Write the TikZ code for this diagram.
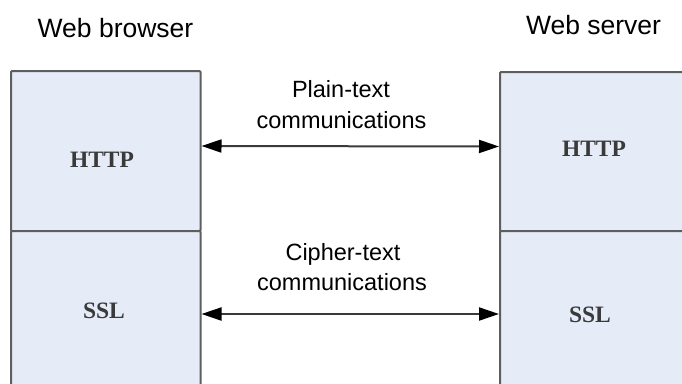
\documentclass[tikz,border=0pt]{standalone}
\usepackage{fontspec}
\setmainfont{Liberation Sans}
\newfontfamily\layerfont{Liberation Serif}
\usetikzlibrary{arrows.meta}
\definecolor{layerfill}{HTML}{E6ECF7}
\definecolor{layeredge}{HTML}{5E5E5E}
\definecolor{linkline}{HTML}{3A3A3A}
\definecolor{layertext}{HTML}{3A3A3A}
\tikzset{
  layer/.style={draw=layeredge, line width=2pt, fill=layerfill, rounded corners=1pt,
    inner sep=0pt, anchor=north west},
  layerlabel/.style={anchor=base, inner sep=0pt, text=layertext,
    font=\layerfont\bfseries\fontsize{23.5}{28}\selectfont},
  title/.style={anchor=base, inner sep=0pt, font=\fontsize{26.5}{31}\selectfont},
  caption/.style={anchor=base, inner sep=0pt, font=\fontsize{23.5}{28}\selectfont},
  link/.style={draw=linkline, line width=2pt,
    >={Triangle[length=20pt,width=13pt,color=black]}, <->}
}
\begin{document}
\begin{tikzpicture}[x=1pt,y=-1pt]
  \useasboundingbox (0,0) rectangle (682,383);
  \clip (0,0) rectangle (682,383);
  \fill[white] (0,0) rectangle (682,383);

  % browser stack
  \node[layer, minimum width=189.5pt, minimum height=160pt] (lhttp) at (10,70) {};
  \node[layer, minimum width=189.5pt, minimum height=166pt] (lssl) at (10,230) {};
  % server stack
  \node[layer, minimum width=200pt, minimum height=159pt] (rhttp) at (499,71) {};
  \node[layer, minimum width=200pt, minimum height=166pt] (rssl) at (499,230) {};

  \node[layerlabel] (lhttptext) at (102,167) {HTTP};
  \node[layerlabel] (lssltext) at (104,318) {SSL};
  \node[layerlabel] (rhttptext) at (594,156) {HTTP};
  \node[layerlabel] (rssltext) at (590,322) {SSL};

  \node[title] (browser) at (115.5,37) {Web browser};
  \node[title] (server) at (593.5,34) {Web server};

  \node[caption] (plain) at (341,97) {Plain-text};
  \node[caption] (plaincomm) at (341.5,128.5) {communications};
  \node[caption] (cipher) at (343,260) {Cipher-text};
  \node[caption] (ciphercomm) at (342,290) {communications};

  \draw[link] ([yshift=5pt]lhttp.east) -- ([yshift=5pt]rhttp.west);
  \draw[link] (lssl.east) -- (rssl.west);
\end{tikzpicture}
\end{document}
